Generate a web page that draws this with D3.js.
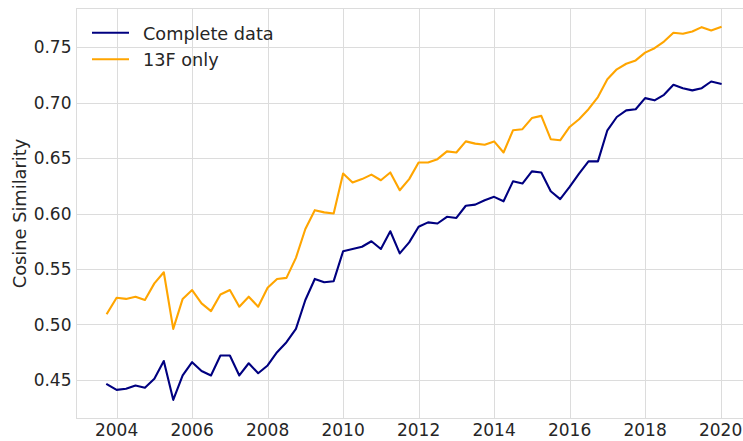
<!DOCTYPE html>
<html><head><meta charset="utf-8">
<script src="https://cdn.jsdelivr.net/npm/d3@7"></script>
<style>body{margin:0;background:#fff}svg{display:block}</style>
</head><body>
<svg id="chart" width="743" height="441"></svg>
<script>
const dates = [2003.75,2004.00,2004.25,2004.50,2004.75,2005.00,2005.25,2005.50,2005.75,2006.00,2006.25,2006.50,2006.75,
2007.00,2007.25,2007.50,2007.75,2008.00,2008.25,2008.50,2008.75,2009.00,2009.25,2009.50,2009.75,2010.00,2010.25,2010.50,2010.75,
2011.00,2011.25,2011.50,2011.75,2012.00,2012.25,2012.50,2012.75,2013.00,2013.25,2013.50,2013.75,2014.00,2014.25,2014.50,2014.75,
2015.00,2015.25,2015.50,2015.75,2016.00,2016.25,2016.50,2016.75,2017.00,2017.25,2017.50,2017.75,2018.00,2018.25,2018.50,2018.75,
2019.00,2019.25,2019.50,2019.75,2020.00];
const completeData = [0.446,0.441,0.442,0.445,0.443,0.451,0.467,0.432,0.454,0.466,0.458,0.454,0.472,
0.472,0.454,0.465,0.456,0.463,0.475,0.484,0.496,0.522,0.541,0.538,0.539,0.566,0.568,0.570,0.575,
0.568,0.584,0.564,0.574,0.588,0.592,0.591,0.597,0.596,0.607,0.608,0.612,0.615,0.611,0.629,0.627,
0.638,0.637,0.620,0.613,0.624,0.636,0.647,0.647,0.675,0.687,0.693,0.694,0.704,0.702,0.707,0.716,
0.713,0.711,0.713,0.719,0.717];
const only13F = [0.510,0.524,0.523,0.525,0.522,0.537,0.547,0.496,0.523,0.531,0.519,0.512,0.527,
0.531,0.516,0.525,0.516,0.533,0.541,0.542,0.560,0.586,0.603,0.601,0.600,0.636,0.628,0.631,0.635,
0.630,0.637,0.621,0.631,0.646,0.646,0.649,0.656,0.655,0.665,0.663,0.662,0.665,0.655,0.675,0.676,
0.686,0.688,0.667,0.666,0.678,0.685,0.694,0.705,0.721,0.730,0.735,0.738,0.745,0.749,0.755,0.763,
0.762,0.764,0.768,0.765,0.768];
const xTicks = [2004,2006,2008,2010,2012,2014,2016,2018,2020];
const yTicks = [0.45,0.50,0.55,0.60,0.65,0.70,0.75];
const seriesNames = ["Complete data","13F only"];
const seriesColors = ["#000080","#FFA500"];

const svg = d3.select("#chart");
const L = 76.5, T = 8.5, B = 418.5;
const x = d3.scaleLinear().domain([2002.9375, 2020.8125]).range([L, L + 17.875*37.75]);
const y = d3.scaleLinear().domain([0.4152, 0.7848]).range([B, T]);
const R = x.range()[1];
const font = "'DejaVu Sans', sans-serif";
const grid = "#dcdcdc";
const txt = "#262626";

svg.append("defs").append("clipPath").attr("id","c")
  .append("rect").attr("x",L).attr("y",T).attr("width",R-L).attr("height",B-T);

const g = svg.append("g");
g.selectAll(".vg").data(xTicks).enter().append("line")
  .attr("x1",d=>Math.round(x(d))+0.5).attr("x2",d=>Math.round(x(d))+0.5)
  .attr("y1",T).attr("y2",B).attr("stroke",grid).attr("stroke-width",1);
g.selectAll(".hg").data(yTicks).enter().append("line")
  .attr("y1",d=>Math.round(y(d))+0.5).attr("y2",d=>Math.round(y(d))+0.5)
  .attr("x1",L).attr("x2",R).attr("stroke",grid).attr("stroke-width",1);
g.append("rect").attr("x",L).attr("y",T).attr("width",R-L).attr("height",B-T)
  .attr("fill","none").attr("stroke",grid).attr("stroke-width",1);

const series = [completeData, only13F];
const line = d3.line().x((d,i)=>x(dates[i])).y(d=>y(d));
series.forEach((s,k)=>{
  svg.append("path").datum(s).attr("d",line).attr("fill","none")
    .attr("stroke",seriesColors[k]).attr("stroke-width",2.1)
    .attr("stroke-linejoin","round").attr("stroke-linecap","square")
    .attr("clip-path","url(#c)");
});

svg.selectAll(".xt").data(xTicks).enter().append("text")
  .attr("x",d=>x(d)).attr("y",436).attr("text-anchor","middle")
  .attr("font-family",font).attr("font-size",17).attr("fill",txt)
  .text(d=>d);
svg.selectAll(".yt").data(yTicks).enter().append("text")
  .attr("x",71.5).attr("y",d=>y(d)+6.2).attr("text-anchor","end")
  .attr("font-family",font).attr("font-size",17).attr("fill",txt)
  .text(d=>d.toFixed(2));
svg.append("text").attr("transform","translate(26,213.5) rotate(-90)")
  .attr("text-anchor","middle").attr("font-family",font).attr("font-size",17.8)
  .attr("fill",txt).text("Cosine Similarity");

const lg = svg.append("g");
seriesNames.forEach((n,k)=>{
  const yy = 32.7 + k*26.6;
  lg.append("line").attr("x1",92).attr("x2",129).attr("y1",yy).attr("y2",yy)
    .attr("stroke",seriesColors[k]).attr("stroke-width",2.1);
  lg.append("text").attr("x",143).attr("y",yy+6.8).attr("font-family",font)
    .attr("font-size",17.7).attr("fill",txt).text(n);
});
</script>
</body></html>
